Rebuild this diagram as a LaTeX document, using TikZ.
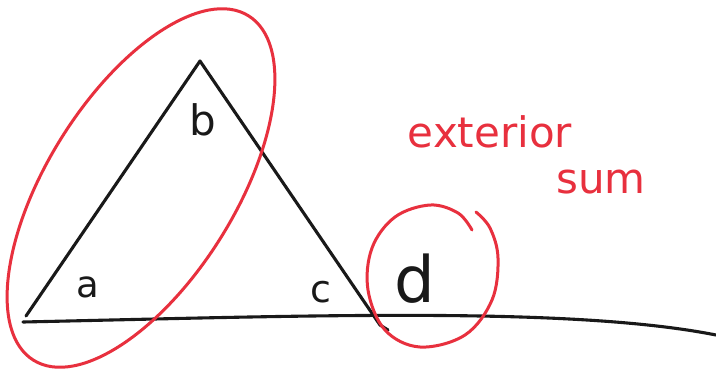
\documentclass[tikz,border=0pt]{standalone}
\usepackage{fontspec}
\setmainfont{DejaVu Sans}
\definecolor{pen}{RGB}{232,48,62}
\begin{document}
\begin{tikzpicture}[x=1pt,y=-1pt,
  ink/.style={line width=3.1pt,line cap=round,line join=round,black!90},
  redink/.style={line width=3pt,line cap=round,line join=round,pen},
  lbl/.style={anchor=base,inner sep=0pt,text=black!90},
  rlbl/.style={anchor=base,inner sep=0pt,text=pen}]
\useasboundingbox (0,0) rectangle (716,373);
\fill[white] (0,0) rectangle (716,373);
% triangle
\coordinate (A) at (26,316);
\coordinate (B) at (200,61);
\coordinate (C) at (380,325);
\coordinate (Ch) at (388,330);
\coordinate (L0) at (23,322);
\coordinate (L1) at (716,335);
\draw[ink] (A) -- (B) -- (C) -- (Ch);
\draw[ink] (L0) .. controls (300,316) and (570,306) .. (L1);
% labels
\node[lbl,font=\fontsize{37}{37}\selectfont] (la) at (88,297) {a};
\node[lbl,font=\fontsize{42}{42}\selectfont] (lb) at (203,135) {b};
\node[lbl,font=\fontsize{38}{38}\selectfont] (lc) at (321,302) {c};
\node[lbl,font=\fontsize{64}{64}\selectfont] (ld) at (415,302) {d};
% red ellipse around a and b
\draw[redink,shift={(141,188)},rotate=58] (0,0) ellipse [x radius=203,y radius=94];
% red spiral circle around d
\draw[redink] plot[smooth,tension=0.6] coordinates {(476,212) (490,228) (498,258) (492,300) (465,335) (420,347) (385,330) (368,290) (372,248) (395,217) (430,205) (458,213) (472,230)};
% text
\node[rlbl,font=\fontsize{42}{42}\selectfont] (ext) at (490,147) {exterior};
\node[rlbl,font=\fontsize{42}{42}\selectfont] (sum) at (601,193) {sum};
\end{tikzpicture}
\end{document}
